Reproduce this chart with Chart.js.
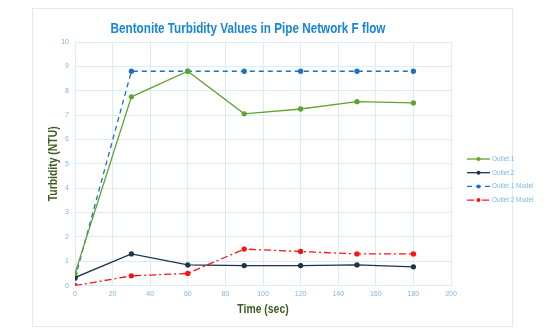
<!DOCTYPE html>
<html>
<head>
<meta charset="utf-8">
<script src="https://cdn.jsdelivr.net/npm/chart.js@4.4.0/dist/chart.umd.min.js"></script>
<style>
  html, body { margin: 0; padding: 0; background: #fff; }
  #wrap { position: relative; width: 550px; height: 335px; }
  #frame { position: absolute; left: 32px; top: 8px; width: 479px; height: 317px; border: 1px solid #d9ecfa; }
  canvas { position: absolute; left: 0; top: 0; }
</style>
</head>
<body>
<div id="wrap">
  <div id="frame"></div>
  <canvas id="chart" width="550" height="335"></canvas>
</div>
<script>
const times = [0, 30, 60, 90, 120, 150, 180];
const outlet1 = [0.5, 7.75, 8.8, 7.05, 7.25, 7.55, 7.5];
const outlet2 = [0.33, 1.3, 0.85, 0.82, 0.82, 0.85, 0.77];
const outlet1Model = [0.3, 8.8, 8.8, 8.8, 8.8, 8.8, 8.8];
const outlet2Model = [0, 0.4, 0.5, 1.5, 1.4, 1.3, 1.3];

const seriesNames = ["Outlet 1", "Outlet 2", "Outlet 1 Model", "Outlet 2 Model"];
const seriesColors = ["#5fa52e", "#1d3446", "#1a73c2", "#ff1010"];
const seriesDash = [[], [], [5, 4], [7, 3, 2, 3]];
const seriesData = [outlet1, outlet2, outlet1Model, outlet2Model];

const chartTitle = "Bentonite Turbidity Values in Pipe Network F flow";
const xTitle = "Time (sec)";
const yTitle = "Turbidity (NTU)";

const tickColor = "#7db7e6";
const gridColor = "#d9ecfa";
const axisTitleColor = "#3d5c1d";
const font = "'Liberation Sans', Arial, sans-serif";

const toPoints = (vals) => vals.map((v, i) => ({ x: times[i], y: v }));

// the original uses a narrow font, so squeeze the text sideways
const drawNarrow = (ctx, text, x, y, size, color, squeeze, angle) => {
    ctx.save();
    ctx.translate(x, y);
    if (angle) ctx.rotate(angle);
    ctx.scale(squeeze, 1);
    ctx.font = "bold " + size + "px " + font;
    ctx.fillStyle = color;
    ctx.textAlign = "center";
    ctx.textBaseline = "middle";
    ctx.fillText(text, 0, 0);
    ctx.restore();
};

const titlesAndLegend = {
    id: "titlesAndLegend",
    afterDraw(chart) {
        const ctx = chart.ctx;
        const area = chart.chartArea;

        drawNarrow(ctx, chartTitle, 248, 29, 15, "#1a85d6", 0.78, 0);
        drawNarrow(ctx, xTitle, (area.left + area.right) / 2, 309, 13, axisTitleColor, 0.8, 0);
        drawNarrow(ctx, yTitle, 53, (area.top + area.bottom) / 2, 13, axisTitleColor, 0.8, -Math.PI / 2);

        const x0 = 467, y0 = 159, gap = 13.7;
        ctx.save();
        chart.data.datasets.forEach((ds, i) => {
            const y = y0 + i * gap;
            ctx.strokeStyle = ds.borderColor;
            ctx.lineWidth = 1.3;
            ctx.setLineDash(ds.borderDash || []);
            ctx.beginPath();
            ctx.moveTo(x0, y);
            ctx.lineTo(x0 + 23, y);
            ctx.stroke();
            ctx.setLineDash([]);
            ctx.fillStyle = ds.borderColor;
            ctx.beginPath();
            ctx.arc(x0 + 11.5, y, 2, 0, Math.PI * 2);
            ctx.fill();
            ctx.save();
            ctx.translate(x0 + 25, y);
            ctx.scale(0.85, 1);
            ctx.fillStyle = tickColor;
            ctx.font = "7.5px " + font;
            ctx.textBaseline = "middle";
            ctx.fillText(ds.label, 0, 0);
            ctx.restore();
        });
        ctx.restore();
    }
};

const datasets = seriesNames.map((name, i) => ({
    label: name,
    data: toPoints(seriesData[i]),
    borderColor: seriesColors[i],
    backgroundColor: seriesColors[i],
    borderWidth: 1.3,
    borderDash: seriesDash[i],
    pointRadius: 2,
    pointHoverRadius: 2,
    tension: 0,
    fill: false
}));

new Chart(document.getElementById("chart").getContext("2d"), {
    type: "line",
    data: { datasets: datasets },
    options: {
        responsive: false,
        animation: false,
        layout: { padding: { left: 40, right: 99, top: 42, bottom: 33 } },
        plugins: {
            legend: { display: false },
            tooltip: { enabled: false },
            title: { display: false }
        },
        scales: {
            x: {
                type: "linear",
                min: 0,
                max: 200,
                ticks: { stepSize: 20, color: tickColor, font: { family: font, size: 7 }, padding: 4 },
                grid: { color: gridColor, drawTicks: false },
                border: { color: gridColor }
            },
            y: {
                min: 0,
                max: 10,
                afterFit: (scale) => { scale.width = 35; },
                ticks: { stepSize: 1, color: tickColor, font: { family: font, size: 7 }, padding: 6 },
                grid: { color: gridColor, drawTicks: false },
                border: { color: gridColor }
            }
        }
    },
    plugins: [titlesAndLegend]
});
</script>
</body>
</html>
